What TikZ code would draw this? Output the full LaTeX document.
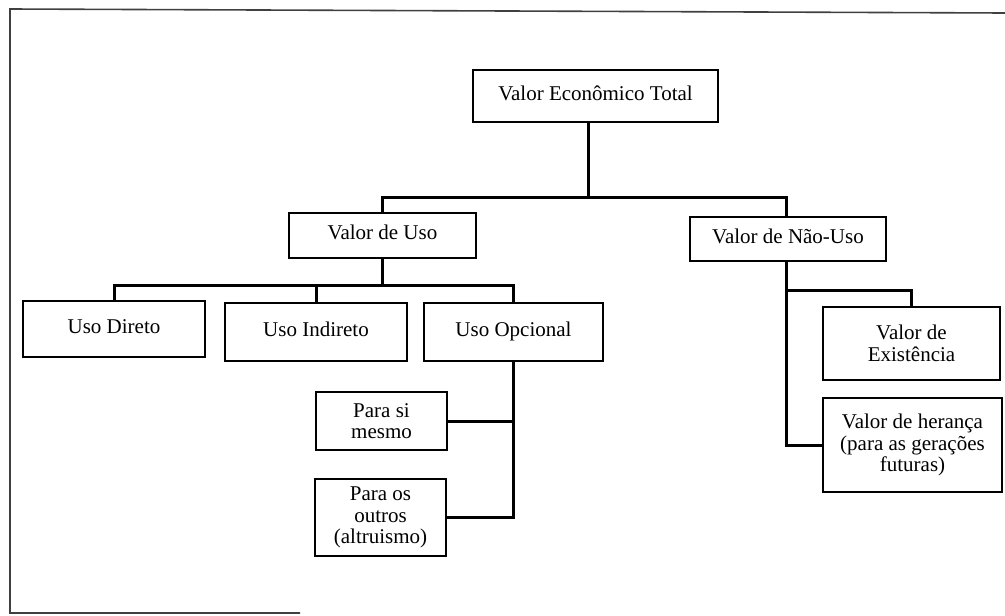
\documentclass[tikz,border=0pt]{standalone}
\usepackage{fontspec}
\setmainfont{Liberation Serif}
\begin{document}
\begin{tikzpicture}[x=1pt,y=-1pt,
  box/.style={draw, line width=1.3pt, inner sep=0pt, align=center,
    font=\fontsize{21}{21.5}\selectfont},
  onebox/.style={box, text height=14.5pt, text depth=6pt},
  link/.style={line width=3pt, line cap=rect},
  frame/.style={line width=1.6pt, draw=black!75}]
\useasboundingbox (0,0) rectangle (1005,616);
% frame
\draw[frame] (1005,13) -- (10,9) -- (10,613) -- (300,613);
% boxes
\node[onebox, minimum width=245pt, minimum height=52pt] (vet) at (595.5,96) {Valor Econômico Total};
\node[onebox, minimum width=187pt, minimum height=45pt] (uso) at (382.5,235.5) {Valor de Uso};
\node[onebox, minimum width=196pt, minimum height=44pt] (nuso) at (788,239) {Valor de Não-Uso};
\node[onebox, minimum width=182pt, minimum height=56pt] (dir) at (114,329) {Uso Direto};
\node[onebox, minimum width=182pt, minimum height=58pt] (ind) at (316,332) {Uso Indireto};
\node[onebox, minimum width=179pt, minimum height=58pt] (opc) at (513.5,332) {Uso Opcional};
\node[box, minimum width=131pt, minimum height=58pt] (psi) at (381.5,421) {Para si\\mesmo};
\node[box, minimum width=131pt, minimum height=77pt] (pout) at (380.5,517.5) {Para os\\outros\\(altruismo)};
\node[box, minimum width=177pt, minimum height=73pt] (exi) at (911.5,343.5) {Valor de\\Existência};
\node[box, minimum width=179pt, minimum height=94pt] (her) at (912.5,445) {Valor de herança\\(para as gerações\\futuras)};
% junctions
\coordinate (j1) at (588,197);
\coordinate (j2) at (382.5,285);
\coordinate (j3) at (786,290);
% connectors
\draw[link] (vet.south -| j1) -- (j1);
\draw[link] (uso.north) |- (j1) -| (nuso.north -| j3);
\draw[link] (uso.south) -- (j2);
\draw[link] (dir.north) |- (j2) -| (opc.north);
\draw[link] (ind.north) -- (ind.north |- j2);
\draw[link] (opc.south) |- (pout.east);
\draw[link] (psi.east) -- (psi.east -| opc.south);
\draw[link] (nuso.south -| j3) |- (her.west);
\draw[link] (j3) -| (exi.north);
\end{tikzpicture}
\end{document}
